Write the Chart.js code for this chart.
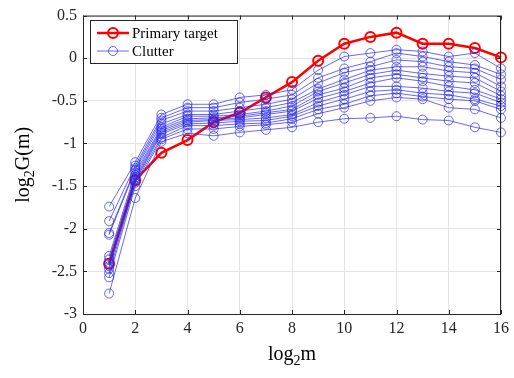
<!DOCTYPE html>
<html>
<head>
<meta charset="utf-8">
<script src="https://cdn.jsdelivr.net/npm/chart.js"></script>
<style>
  html, body { margin: 0; padding: 0; background: #ffffff; }
  #wrap { width: 514px; height: 378px; }
</style>
</head>
<body>
<div id="wrap"><canvas id="gainChart" width="514" height="378"></canvas></div>
<script>
// log2 m, one point per scale
let scales = [1, 2, 3, 4, 5, 6, 7, 8, 9, 10, 11, 12, 13, 14, 15, 16];

let primaryTarget = [-2.41, -1.43, -1.11, -0.96, -0.75, -0.64, -0.46, -0.28, -0.03, 0.17, 0.25, 0.30, 0.17, 0.17, 0.12, 0.01];

// clutter curves
let clutter0 = [-1.74, -1.22, -0.66, -0.54, -0.54, -0.46, -0.43, -0.37, -0.14, 0.02, 0.06, 0.10, 0.08, 0.02, 0.06, -0.12];
let clutter1 = [-1.91, -1.26, -0.70, -0.58, -0.58, -0.52, -0.48, -0.43, -0.23, -0.12, -0.04, 0.06, 0.02, -0.04, -0.08, -0.19];
let clutter2 = [-2.05, -1.29, -0.73, -0.62, -0.62, -0.58, -0.54, -0.48, -0.29, -0.17, -0.10, -0.02, -0.04, -0.10, -0.12, -0.25];
let clutter3 = [-2.07, -1.31, -0.77, -0.66, -0.66, -0.62, -0.58, -0.52, -0.36, -0.25, -0.14, -0.10, -0.10, -0.15, -0.17, -0.33];
let clutter4 = [-2.32, -1.34, -0.81, -0.68, -0.68, -0.66, -0.62, -0.56, -0.39, -0.29, -0.19, -0.14, -0.18, -0.21, -0.23, -0.39];
let clutter5 = [-2.36, -1.37, -0.83, -0.71, -0.70, -0.68, -0.64, -0.60, -0.43, -0.35, -0.23, -0.19, -0.23, -0.27, -0.29, -0.44];
let clutter6 = [-2.40, -1.40, -0.85, -0.73, -0.72, -0.70, -0.66, -0.62, -0.47, -0.39, -0.29, -0.23, -0.27, -0.33, -0.37, -0.48];
let clutter7 = [-2.44, -1.42, -0.87, -0.75, -0.73, -0.72, -0.70, -0.66, -0.52, -0.43, -0.33, -0.33, -0.35, -0.39, -0.41, -0.52];
let clutter8 = [-2.47, -1.44, -0.89, -0.77, -0.76, -0.74, -0.73, -0.68, -0.56, -0.48, -0.39, -0.37, -0.41, -0.43, -0.48, -0.56];
let clutter9 = [-2.52, -1.46, -0.93, -0.79, -0.79, -0.77, -0.76, -0.71, -0.60, -0.54, -0.44, -0.41, -0.45, -0.48, -0.50, -0.60];
let clutter10 = [-2.57, -1.50, -0.95, -0.83, -0.83, -0.80, -0.78, -0.75, -0.65, -0.58, -0.50, -0.46, -0.48, -0.58, -0.60, -0.70];
let clutter11 = [-2.76, -1.64, -0.98, -0.88, -0.91, -0.87, -0.84, -0.81, -0.75, -0.71, -0.70, -0.68, -0.72, -0.73, -0.81, -0.87];

let clutterCurves = [clutter0, clutter1, clutter2, clutter3, clutter4, clutter5,
  clutter6, clutter7, clutter8, clutter9, clutter10, clutter11];

let legendNames = ["Primary target", "Clutter"];

const RED = "#ff0000";
const BLUE = "rgba(40, 40, 235, 0.7)";
const SERIF = "'Liberation Serif', 'DejaVu Serif', serif";

function toPoints(values) {
  return values.map((v, i) => ({ x: scales[i], y: v }));
}

let datasets = [];
clutterCurves.forEach((curve) => {
  datasets.push({
    label: legendNames[1],
    data: toPoints(curve),
    borderColor: BLUE,
    backgroundColor: "rgba(0,0,0,0)",
    borderWidth: 1,
    pointRadius: 4.5,
    pointBorderWidth: 1,
    pointBorderColor: BLUE,
    pointBackgroundColor: "rgba(0,0,0,0)",
    clip: false,
    order: 1
  });
});
datasets.push({
  label: legendNames[0],
  data: toPoints(primaryTarget),
  borderColor: RED,
  backgroundColor: "rgba(0,0,0,0)",
  borderWidth: 2.5,
  pointRadius: 5,
  pointBorderWidth: 2,
  pointBorderColor: RED,
  pointBackgroundColor: "rgba(0,0,0,0)",
  clip: false,
  order: 2
});

// draw "log" + subscript "2" + rest, centred on (cx, cy)
function subLabel(ctx, rest, cx, cy, size) {
  let big = size + "px " + SERIF;
  let small = Math.round(size * 0.7) + "px " + SERIF;
  ctx.font = big;
  let w1 = ctx.measureText("log").width;
  let w3 = ctx.measureText(rest).width;
  ctx.font = small;
  let w2 = ctx.measureText("2").width;
  let x = cx - (w1 + w2 + w3) / 2;
  ctx.textBaseline = "middle";
  ctx.textAlign = "left";
  ctx.font = big;
  ctx.fillText("log", x, cy);
  ctx.font = small;
  ctx.fillText("2", x + w1, cy + size * 0.3);
  ctx.font = big;
  ctx.fillText(rest, x + w1 + w2, cy);
}

const decorations = {
  id: "decorations",
  afterDraw(chart) {
    let ctx = chart.ctx;
    let a = chart.chartArea;
    let xs = chart.scales.x;
    let ys = chart.scales.y;
    ctx.save();

    // box and inward ticks
    ctx.strokeStyle = "#262626";
    ctx.lineWidth = 1;
    ctx.strokeRect(a.left + 0.5, a.top + 0.5, a.right - a.left - 1, a.bottom - a.top);
    ctx.beginPath();
    xs.ticks.forEach((t) => {
      let px = Math.round(xs.getPixelForValue(t.value)) + 0.5;
      ctx.moveTo(px, a.bottom); ctx.lineTo(px, a.bottom - 4);
      ctx.moveTo(px, a.top); ctx.lineTo(px, a.top + 4);
    });
    ys.ticks.forEach((t) => {
      let py = Math.round(ys.getPixelForValue(t.value)) + 0.5;
      ctx.moveTo(a.left, py); ctx.lineTo(a.left + 4, py);
      ctx.moveTo(a.right, py); ctx.lineTo(a.right - 4, py);
    });
    ctx.stroke();

    // legend
    let lx = 90, ly = 20, lw = 147, lh = 43;
    ctx.fillStyle = "#ffffff";
    ctx.fillRect(lx, ly, lw, lh);
    ctx.strokeStyle = "#262626";
    ctx.strokeRect(lx + 0.5, ly + 0.5, lw, lh);
    let entries = [
      { name: legendNames[0], color: RED, lw: 2.5, r: 5, pw: 2, y: ly + 13 },
      { name: legendNames[1], color: BLUE, lw: 1, r: 4.5, pw: 1, y: ly + 31 }
    ];
    entries.forEach((e) => {
      ctx.strokeStyle = e.color;
      ctx.lineWidth = e.lw;
      ctx.beginPath();
      ctx.moveTo(97, e.y); ctx.lineTo(129, e.y);
      ctx.stroke();
      ctx.lineWidth = e.pw;
      ctx.beginPath();
      ctx.arc(113, e.y, e.r, 0, Math.PI * 2);
      ctx.stroke();
      ctx.fillStyle = "#000000";
      ctx.font = "15px " + SERIF;
      ctx.textAlign = "left";
      ctx.textBaseline = "middle";
      ctx.fillText(e.name, 132, e.y + 1);
    });

    // axis titles
    ctx.fillStyle = "#000000";
    subLabel(ctx, "m", (a.left + a.right) / 2, 355, 20);
    ctx.translate(24, (a.top + a.bottom) / 2);
    ctx.rotate(-Math.PI / 2);
    subLabel(ctx, "G(m)", 0, 0, 20);
    ctx.restore();
  }
};

new Chart(document.getElementById("gainChart"), {
  type: "line",
  data: { datasets: datasets },
  options: {
    responsive: false,
    animation: false,
    layout: { padding: { top: 12, right: 8, left: 0, bottom: 0 } },
    plugins: {
      legend: { display: false },
      tooltip: { enabled: false }
    },
    scales: {
      x: {
        type: "linear",
        min: 0,
        max: 16,
        ticks: {
          stepSize: 2,
          color: "#262626",
          font: { family: SERIF, size: 16 },
          padding: 5,
          maxRotation: 0
        },
        grid: { color: "#e3e3e3", drawTicks: false },
        border: { display: false },
        afterFit: (scale) => { scale.height = 64; }
      },
      y: {
        type: "linear",
        min: -3,
        max: 0.5,
        ticks: {
          stepSize: 0.5,
          color: "#262626",
          font: { family: SERIF, size: 16 },
          padding: 6,
          callback: (v) => String(Math.round(v * 10) / 10)
        },
        grid: { color: "#e3e3e3", drawTicks: false },
        border: { display: false },
        afterFit: (scale) => { scale.width = 83; }
      }
    }
  },
  plugins: [decorations]
});
</script>
</body>
</html>
